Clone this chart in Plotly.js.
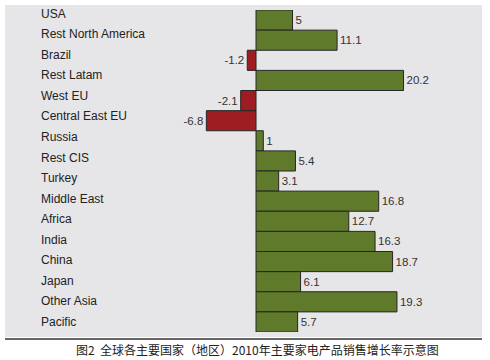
<!DOCTYPE html>
<html>
<head>
<meta charset="utf-8">
<script src="https://cdn.plot.ly/plotly-3.0.1.min.js"></script>
<style>
  html, body { margin: 0; padding: 0; background: #ffffff; }
  #chart { width: 490px; height: 360px; }
</style>
</head>
<body>
<div id="chart"></div>
<script>
// Data
var categories = ["USA", "Rest North America", "Brazil", "Rest Latam", "West EU",
  "Central East EU", "Russia", "Rest CIS", "Turkey", "Middle East", "Africa",
  "India", "China", "Japan", "Other Asia", "Pacific"];
var growth = [5, 11.1, -1.2, 20.2, -2.1, -6.8, 1, 5.4, 3.1, 16.8, 12.7, 16.3, 18.7, 6.1, 19.3, 5.7];
var caption = "图2  全球各主要国家（地区）2010年主要家电产品销售增长率示意图";

var posColor = "#5F7A2A";
var negColor = "#9E1D22";

var idx = categories.map(function (c, i) { return i; });

var trace = {
  type: "bar",
  orientation: "h",
  y: idx,
  x: growth,
  marker: {
    color: growth.map(function (v) { return v < 0 ? negColor : posColor; }),
    line: { color: "#262626", width: 1 }
  },
  text: growth.map(function (v) { return String(v); }),
  textposition: "outside",
  cliponaxis: false,
  textfont: { family: "Liberation Sans, Arial, sans-serif", size: 11.5, color: "#333333" },
  hoverinfo: "none"
};

// invisible helper trace for the label axis
var helper = {
  type: "scatter", mode: "markers", x: [0], y: [0], yaxis: "y2",
  marker: { opacity: 0 }, hoverinfo: "none", showlegend: false
};

var annotations = categories.map(function (c, i) {
  return {
    xref: "paper", yref: "y2", x: -0.5963, y: i,
    xanchor: "left", yanchor: "middle",
    text: c, showarrow: false,
    font: { family: "Liberation Sans, Arial, sans-serif", size: 12, color: "#222222" }
  };
});
annotations.push({
  xref: "paper", yref: "paper", x: 0.2148, y: -0.0534,
  xanchor: "center", yanchor: "middle",
  text: caption, showarrow: false,
  font: { family: "Noto Sans CJK SC, sans-serif", size: 12, color: "#222222" }
});

var layout = {
  width: 490, height: 360,
  margin: { l: 200, r: 20, t: 10, b: 28 },
  paper_bgcolor: "#ffffff",
  plot_bgcolor: "rgba(0,0,0,0)",
  showlegend: false,
  bargap: 0,
  xaxis: {
    range: [-7.67, 29.3], showgrid: false, zeroline: false,
    showticklabels: false, ticks: "", fixedrange: true
  },
  yaxis: {
    range: [15.5, -0.5], showgrid: false, zeroline: false,
    showticklabels: false, ticks: "", fixedrange: true
  },
  yaxis2: {
    overlaying: "y", range: [15.49, -0.18], visible: false, fixedrange: true
  },
  shapes: [
    { type: "rect", xref: "paper", yref: "paper", layer: "below",
      x0: -0.7222, x1: 1.0444, y0: -0.0155, y1: 1.0155,
      fillcolor: "#E6E6E8", line: { width: 0 } },
    { type: "line", xref: "paper", yref: "paper",
      x0: -0.7222, x1: 1.0444, y0: -0.0217, y1: -0.0217,
      line: { color: "#333333", width: 1.5 } }
  ],
  annotations: annotations
};

Plotly.newPlot("chart", [trace, helper], layout, { displayModeBar: false, staticPlot: true });
</script>
</body>
</html>
